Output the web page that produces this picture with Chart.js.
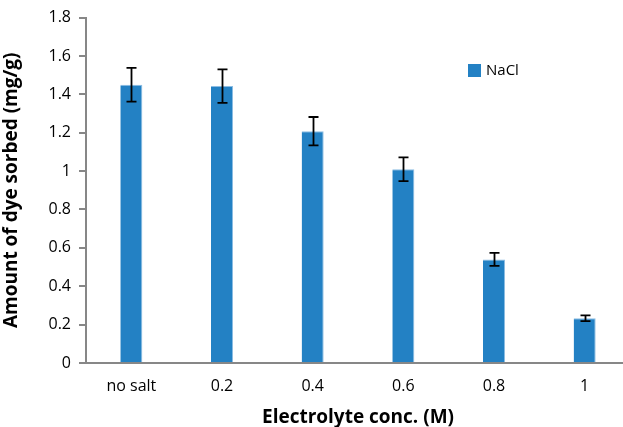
<!DOCTYPE html>
<html>
<head>
<meta charset="utf-8">
<script src="https://cdn.jsdelivr.net/npm/chart.js@4.4.1/dist/chart.umd.min.js"></script>
<style>
  html, body { margin: 0; padding: 0; background: #fff; overflow: hidden; }
  #wrap { width: 632px; height: 427px; }
</style>
</head>
<body>
<div id="wrap"><canvas id="chart"></canvas></div>
<script>
// data
const categories = ['no salt', '0.2', '0.4', '0.6', '0.8', '1'];
const nacl = [1.45, 1.443, 1.208, 1.01, 0.54, 0.233];
const naclErr = [0.088, 0.087, 0.074, 0.062, 0.034, 0.015];
const yTicks = [0, 0.2, 0.4, 0.6, 0.8, 1, 1.2, 1.4, 1.6, 1.8];

const FONT = '"Open Sans", sans-serif';
const AXIS_GREY = '#878787';

// error bars drawn on top of the bars
const errorBars = {
  id: 'errorBars',
  afterDatasetsDraw(chart) {
    const ctx = chart.ctx;
    const y = chart.scales.y;
    const meta = chart.getDatasetMeta(0);
    ctx.save();
    ctx.strokeStyle = '#000';
    ctx.lineWidth = 1.8;
    meta.data.forEach((bar, i) => {
      const x = Math.round(bar.x) + 0.5;
      const top = y.getPixelForValue(nacl[i] + naclErr[i]);
      const bot = y.getPixelForValue(nacl[i] - naclErr[i]);
      ctx.beginPath();
      ctx.moveTo(x, top); ctx.lineTo(x, bot);
      ctx.moveTo(x - 5, top); ctx.lineTo(x + 5, top);
      ctx.moveTo(x - 5, bot); ctx.lineTo(x + 5, bot);
      ctx.stroke();
    });
    ctx.restore();
  }
};

// legend box inside the plot, as in the original
const insideLegend = {
  id: 'insideLegend',
  afterDraw(chart) {
    const ctx = chart.ctx;
    ctx.save();
    ctx.fillStyle = '#2381C4';
    ctx.fillRect(468, 64, 13, 13);
    ctx.fillStyle = '#000';
    ctx.font = '15px ' + FONT;
    ctx.textBaseline = 'middle';
    ctx.fillText(chart.data.datasets[0].label, 486, 71);
    ctx.restore();
  }
};

new Chart(document.getElementById('chart'), {
  type: 'bar',
  data: {
    labels: categories,
    datasets: [{
      label: 'NaCl',
      data: nacl,
      backgroundColor: '#2381C4',
      borderColor: '#8DBDE3',
      borderWidth: { top: 1, right: 1, left: 0, bottom: 0 },
      borderSkipped: false,
      categoryPercentage: 1,
      barPercentage: 0.243
    }]
  },
  options: {
    responsive: true,
    maintainAspectRatio: false,
    animation: false,
    layout: { padding: { top: 11, right: 2, left: 0, bottom: 0 } },
    plugins: {
      legend: { display: false },
      tooltip: { enabled: false }
    },
    scales: {
      x: {
        afterFit(scale) { scale.height = 64; },
        grid: { display: false, drawTicks: false },
        border: { display: true, color: AXIS_GREY, width: 2 },
        ticks: { color: '#000', font: { family: FONT, size: 16 }, padding: 14 },
        title: {
          display: true,
          text: 'Electrolyte conc. (M)',
          color: '#000',
          font: { family: FONT, size: 19, weight: 'bold', lineHeight: 1 },
          padding: { top: 4, bottom: 0 }
        }
      },
      y: {
        min: 0,
        max: 1.8,
        afterBuildTicks(scale) {
          scale.ticks = yTicks.map(v => ({ value: v }));
        },
        afterFit(scale) { scale.width = 86; },
        grid: { drawOnChartArea: false, drawTicks: true, tickLength: 7, color: AXIS_GREY, lineWidth: 2 },
        border: { display: true, color: AXIS_GREY, width: 2 },
        ticks: {
          color: '#000',
          font: { family: FONT, size: 16 },
          padding: 8,
          callback: v => String(Math.round(v * 10) / 10)
        },
        title: {
          display: true,
          text: 'Amount of dye sorbed (mg/g)',
          color: '#000',
          font: { family: FONT, size: 19, weight: 'bold' },
          padding: { top: 0, bottom: 0 }
        }
      }
    }
  },
  plugins: [errorBars, insideLegend]
});
</script>
</body>
</html>
